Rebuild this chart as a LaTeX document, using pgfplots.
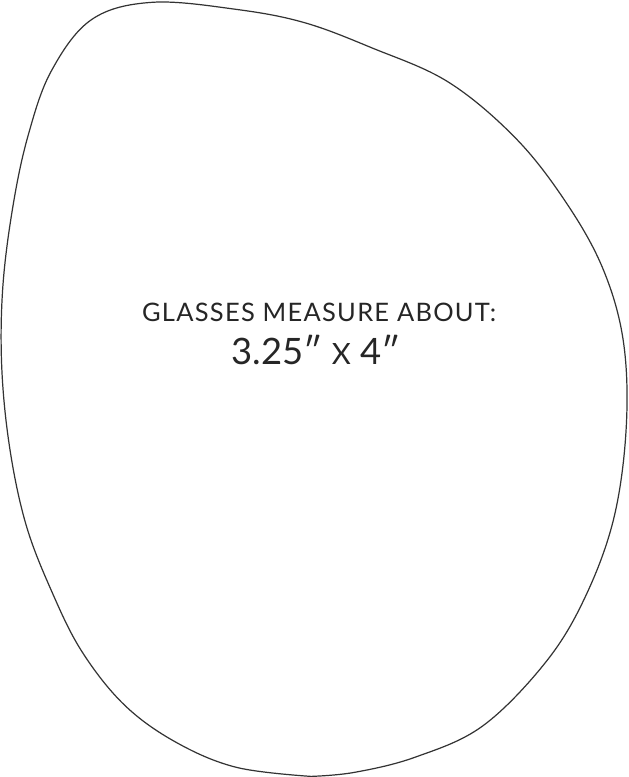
\documentclass[border=0pt]{standalone}
\usepackage{pgfplots}
\pgfplotsset{compat=1.18}
\usepackage{fontspec}
\setmainfont{Lato}
\newfontfamily\spaced[LetterSpace=5]{Lato}
\begin{document}
\begin{tikzpicture}
\begin{axis}[
  width=315pt, height=388.5pt, scale only axis,
  xmin=0, xmax=630, ymin=0, ymax=777, y dir=reverse,
  hide axis, clip=false,
]
\addplot[smooth, tension=0.6, color=black!80, line width=0.6pt, mark=none] coordinates {
(317,774) (243,765) (183,740) (132,703) (90,650) (60,590) (35,525) (19,450)
(11,370) (12,290) (22,210) (37,140) (60,76) (100,25) (160,8) (243,15) (310,28)
(377,53) (453,87) (520,143) (570,207) (606,272) (626,343) (629,427) (617,517)
(589,595) (550,660) (487,724) (420,755) (360,770) (317,774)
};
\node[anchor=base, text=black!85, inner sep=0pt] at (axis cs:325,324) {\spaced\fontsize{12.6}{14}\selectfont GLASSES MEASURE ABOUT:};
\node[anchor=base, text=black!85, inner sep=0pt] at (axis cs:322,366) {\fontsize{18}{20}\selectfont 3.25″\ {\fontsize{14.5}{17}\selectfont X}\ 4″};
\end{axis}
\end{tikzpicture}
\end{document}
